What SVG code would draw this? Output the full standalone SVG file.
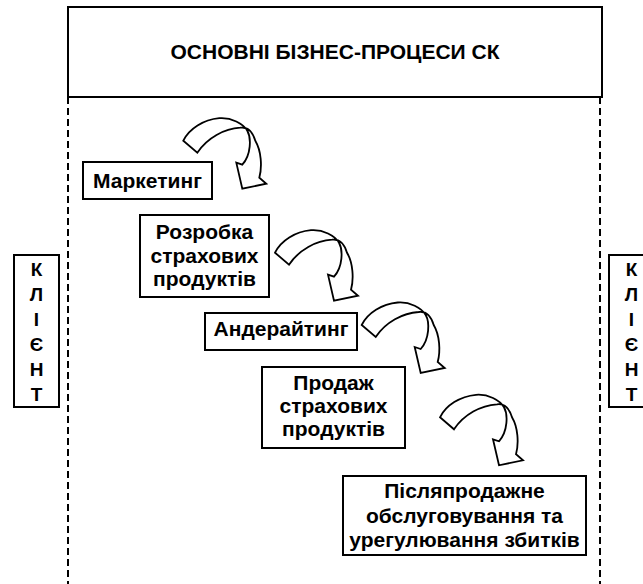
<svg xmlns="http://www.w3.org/2000/svg" xmlns:xlink="http://www.w3.org/1999/xlink" width="643" height="584" viewBox="0 0 643 584">
  <style>
    .box { fill: #fff; stroke: #000; stroke-width: 2; }
    .t { font-family: "Liberation Sans", Arial, sans-serif; font-weight: bold; font-size: 21px; text-anchor: middle; fill: #000; }
    .k { font-family: "Liberation Sans", Arial, sans-serif; font-weight: bold; font-size: 19px; text-anchor: middle; fill: #000; }
    .dash { fill: none; stroke: #000; stroke-width: 2; stroke-dasharray: 7 4; }
    .arr { fill: #fff; stroke: #000; stroke-width: 1.8; stroke-linejoin: miter; }
  </style>
  <defs>
    <path id="arrow" d="M0,0 C6,-12 20,-21 36,-22.5 C48,-23.5 60,-17 64,-10 C68,-3 68,14 59,24 L53,22 L59,48 L83,43 L76,37 C79,26 78,10 72,0 C69,-10 64,-14 57,-13 C41,-12 24,-3 14,12 Z"/>
  </defs>
  <rect width="643" height="584" fill="#fff"/>

  <g id="lines">
    <line class="dash" x1="68" y1="97" x2="68" y2="584"/>
    <line class="dash" x1="600" y1="97" x2="600" y2="584"/>
  </g>

  <g id="title">
    <rect class="box" x="68" y="7" width="534" height="90"/>
    <text class="t" x="335" y="59">ОСНОВНІ БІЗНЕС-ПРОЦЕСИ СК</text>
  </g>

  <g id="client-left">
    <rect class="box" x="14" y="255" width="45" height="152"/>
    <text class="k" x="36.5" y="276">К</text>
    <text class="k" x="36.5" y="301">Л</text>
    <text class="k" x="36.5" y="326">І</text>
    <text class="k" x="36.5" y="351">Є</text>
    <text class="k" x="36.5" y="376">Н</text>
    <text class="k" x="36.5" y="401">Т</text>
  </g>

  <g id="client-right">
    <rect class="box" x="609" y="255" width="45" height="152"/>
    <text class="k" x="631.5" y="276">К</text>
    <text class="k" x="631.5" y="301">Л</text>
    <text class="k" x="631.5" y="326">І</text>
    <text class="k" x="631.5" y="351">Є</text>
    <text class="k" x="631.5" y="376">Н</text>
    <text class="k" x="631.5" y="401">Т</text>
  </g>

  <g id="marketing">
    <rect class="box" x="83" y="162" width="129" height="37"/>
    <text class="t" x="147.5" y="188">Маркетинг</text>
  </g>

  <g id="development">
    <rect class="box" x="140" y="215" width="129" height="82"/>
    <text class="t" x="204.5" y="239">Розробка</text>
    <text class="t" x="204.5" y="263">страхових</text>
    <text class="t" x="204.5" y="286">продуктів</text>
  </g>

  <g id="underwriting">
    <rect class="box" x="205" y="313" width="152" height="37"/>
    <text class="t" x="281" y="336">Андерайтинг</text>
  </g>

  <g id="sales">
    <rect class="box" x="262" y="367" width="143" height="81"/>
    <text class="t" x="333.5" y="390">Продаж</text>
    <text class="t" x="333.5" y="413">страхових</text>
    <text class="t" x="333.5" y="436">продуктів</text>
  </g>

  <g id="aftersales">
    <rect class="box" x="343" y="476" width="243" height="79"/>
    <text class="t" x="464.5" y="498">Післяпродажне</text>
    <text class="t" x="464.5" y="523">обслуговування та</text>
    <text class="t" x="464.5" y="547">урегулювання збитків</text>
  </g>

  <g id="connectors">
    <use xlink:href="#arrow" class="arr" transform="translate(183.3,140.7)"/>
    <use xlink:href="#arrow" class="arr" transform="translate(275,252.7)"/>
    <use xlink:href="#arrow" class="arr" transform="translate(361.7,325)"/>
    <use xlink:href="#arrow" class="arr" transform="translate(440,417.3)"/>
  </g>
</svg>
